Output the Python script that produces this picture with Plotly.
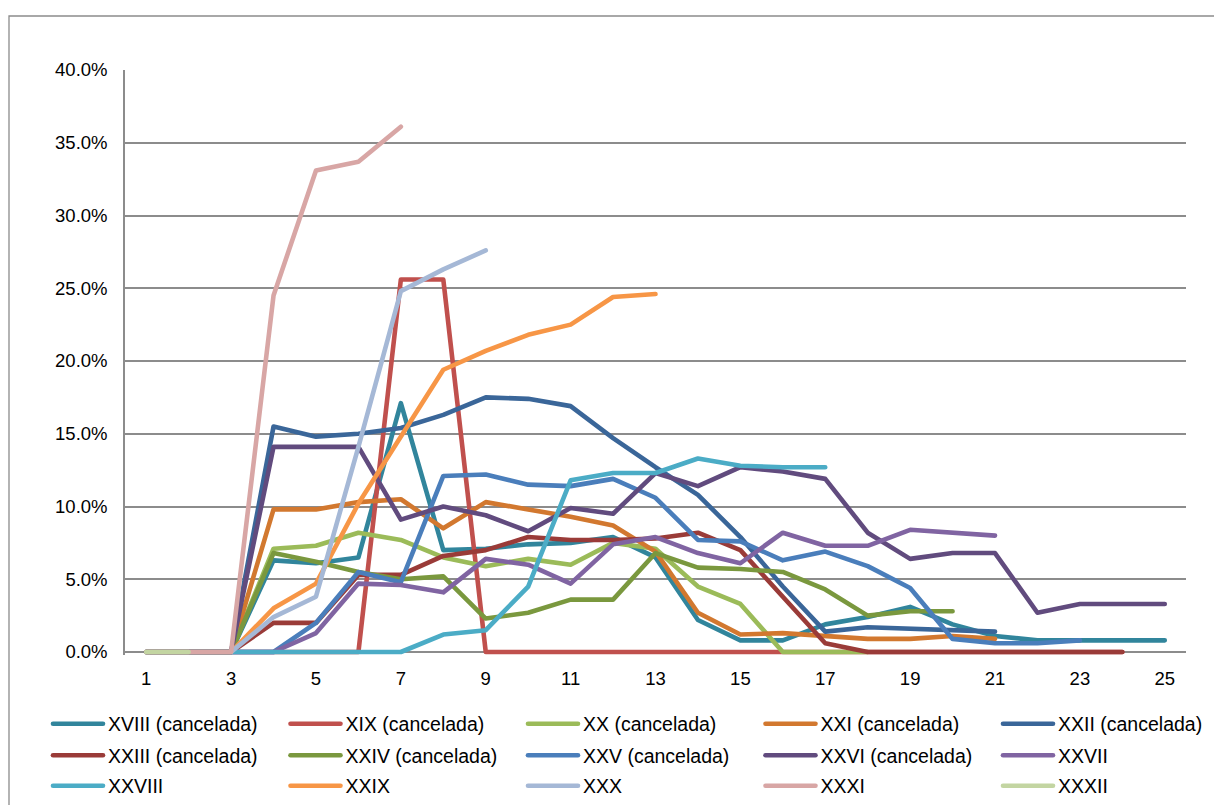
import plotly.graph_objects as go

# Category axis: 1 .. 25
categories = list(range(1, 26))
tick_labels = [str(n) for n in range(1, 26, 2)]

# Series values in percent, starting at category 1
xviii = [0, 0, 0, 6.3, 6.1, 6.5, 17.1, 7.0, 7.1, 7.4, 7.5, 7.9, 6.5, 2.2, 0.8, 0.8, 1.9, 2.4, 3.1, 1.9, 1.1, 0.8, 0.8, 0.8, 0.8]
xix = [0, 0, 0, 0, 0, 0, 25.6, 25.6, 0, 0, 0, 0, 0, 0, 0, 0, 0, 0, 0, 0, 0, 0, 0, 0]
xx = [0, 0, 0, 7.1, 7.3, 8.2, 7.7, 6.5, 5.9, 6.4, 6.0, 7.5, 7.1, 4.5, 3.3, 0, 0, 0]
xxi = [0, 0, 0, 9.8, 9.8, 10.3, 10.5, 8.5, 10.3, 9.8, 9.3, 8.7, 6.9, 2.7, 1.2, 1.3, 1.1, 0.9, 0.9, 1.1, 0.9]
xxii = [0, 0, 0, 15.5, 14.8, 15.0, 15.4, 16.3, 17.5, 17.4, 16.9, 14.7, 12.7, 10.8, 7.9, 4.5, 1.4, 1.7, 1.6, 1.5, 1.4]
xxiii = [0, 0, 0, 2.0, 2.0, 5.3, 5.3, 6.6, 7.0, 7.9, 7.7, 7.7, 7.8, 8.2, 7.0, 3.8, 0.6, 0, 0, 0, 0, 0, 0, 0]
xxiv = [0, 0, 0, 6.8, 6.2, 5.5, 5.0, 5.2, 2.3, 2.7, 3.6, 3.6, 6.8, 5.8, 5.7, 5.5, 4.3, 2.5, 2.8, 2.8]
xxv = [0, 0, 0, 0, 2.0, 5.5, 4.8, 12.1, 12.2, 11.5, 11.4, 11.9, 10.6, 7.7, 7.6, 6.3, 6.9, 5.9, 4.4, 0.9, 0.6, 0.6, 0.8]
xxvi = [0, 0, 0, 14.1, 14.1, 14.1, 9.1, 10.0, 9.4, 8.3, 9.9, 9.5, 12.3, 11.4, 12.7, 12.4, 11.9, 8.2, 6.4, 6.8, 6.8, 2.7, 3.3, 3.3, 3.3]
xxvii = [0, 0, 0, 0, 1.3, 4.7, 4.6, 4.1, 6.4, 6.0, 4.7, 7.4, 7.9, 6.8, 6.1, 8.2, 7.3, 7.3, 8.4, 8.2, 8.0]
xxviii = [0, 0, 0, 0, 0, 0, 0, 1.2, 1.5, 4.5, 11.8, 12.3, 12.3, 13.3, 12.8, 12.7, 12.7]
xxix = [0, 0, 0, 3.0, 4.7, 10.2, 14.8, 19.4, 20.7, 21.8, 22.5, 24.4, 24.6]
xxx = [0, 0, 0, 2.4, 3.8, 14.1, 24.8, 26.3, 27.6]
xxxi = [0, 0, 0, 24.5, 33.1, 33.7, 36.1]
xxxii = [0, 0]

series_names = [
    "XVIII (cancelada)", "XIX (cancelada)", "XX (cancelada)", "XXI (cancelada)", "XXII (cancelada)",
    "XXIII (cancelada)", "XXIV (cancelada)", "XXV (cancelada)", "XXVI (cancelada)", "XXVII",
    "XXVIII", "XXIX", "XXX", "XXXI", "XXXII",
]
series_values = [xviii, xix, xx, xxi, xxii, xxiii, xxiv, xxv, xxvi, xxvii, xxviii, xxix, xxx, xxxi, xxxii]
series_colors = [
    "#31859C", "#C0504D", "#9BBB59", "#D2782F", "#3A6699",
    "#9A3B38", "#7A983E", "#4A7EBB", "#614B7E", "#8064A2",
    "#4BACC6", "#F79646", "#A5B8D6", "#D8A6A5", "#C3D5A2",
]

W, H = 1214, 805
M_L, M_R, M_T, M_B = 125, 28, 70, 150
plot_w = W - M_L - M_R
plot_h = H - M_T - M_B
zero_px = 652                      # pixel row of the 0 % line
y_top = 0.40
y_bottom = -(y_top * plot_h / (zero_px - M_T) - y_top)

FONT = "Liberation Sans, Arial, sans-serif"
GRID = "#8C8C8C"


def px_to_paper_x(px):
    return (px - M_L) / plot_w


def px_to_paper_y(py):
    return (M_T + plot_h - py) / plot_h


fig = go.Figure()

# One small legend per entry, laid out on a 5 x 3 grid (container coordinates)
legend_layouts = {}
col_start = 53
col_step = 237.5
row_centers = [724, 755.5, 786]

for i, (name, vals, color) in enumerate(zip(series_names, series_values, series_colors)):
    key = "legend" if i == 0 else f"legend{i + 1}"
    fig.add_trace(go.Scatter(
        x=categories[:len(vals)],
        y=[v / 100 for v in vals],
        mode="lines",
        name=name,
        line=dict(color=color, width=4.6),
        legend=key,
        hoverinfo="skip",
    ))
    r, c = divmod(i, 5)
    legend_layouts[key] = dict(
        xref="container",
        yref="container",
        x=(col_start + c * col_step - 5) / W,
        y=1 - row_centers[r] / H,
        xanchor="left",
        yanchor="middle",
        orientation="h",
        bgcolor="rgba(0,0,0,0)",
        borderwidth=0,
        itemwidth=50,
        font=dict(family=FONT, size=19.5, color="#000000"),
    )

fig.update_layout(
    width=W,
    height=H,
    margin=dict(l=M_L, r=M_R, t=M_T, b=M_B, pad=0, autoexpand=False),
    paper_bgcolor="#FFFFFF",
    plot_bgcolor="#FFFFFF",
    font=dict(family=FONT, size=18.5, color="#000000"),
    showlegend=True,
    xaxis=dict(
        range=[0.5, 25.5],
        tickmode="array",
        tickvals=list(range(1, 26, 2)),
        ticktext=tick_labels,
        showgrid=False,
        zeroline=False,
        showline=False,
        ticks="",
        ticklabelstandoff=10,
        tickfont=dict(family=FONT, size=18.5, color="#000000"),
        fixedrange=True,
    ),
    yaxis=dict(
        range=[y_bottom, y_top],
        tickmode="array",
        tickvals=[k * 0.05 for k in range(9)],
        tickformat=".1%",
        showgrid=True,
        gridcolor=GRID,
        gridwidth=1.5,
        zeroline=True,
        zerolinecolor=GRID,
        zerolinewidth=1.5,
        showline=True,
        linecolor=GRID,
        linewidth=1.5,
        ticks="",
        ticklabelstandoff=12,
        tickfont=dict(family=FONT, size=18.5, color="#000000"),
        fixedrange=True,
    ),
    shapes=[
        # chart frame
        dict(
            type="rect", xref="paper", yref="paper", layer="below",
            x0=px_to_paper_x(9), x1=px_to_paper_x(W + 40),
            y0=px_to_paper_y(H + 40), y1=px_to_paper_y(16),
            line=dict(color=GRID, width=1.3), fillcolor="rgba(0,0,0,0)",
        )
    ],
    **legend_layouts,
)

round_joins = (
    "document.querySelectorAll('path.js-line, .legendlines path').forEach(function(p){"
    "p.style.strokeLinejoin='round';p.style.strokeLinecap='round';});"
)

fig.write_html("out.html", post_script=round_joins, config={"displayModeBar": False})
